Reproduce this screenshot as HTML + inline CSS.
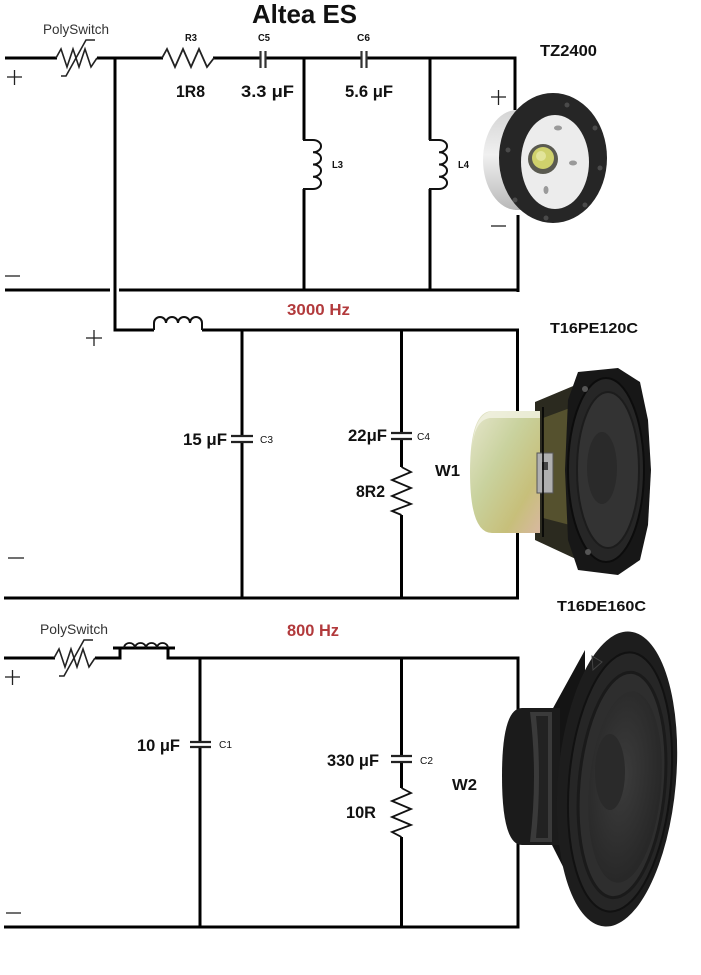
<!DOCTYPE html>
<html><head><meta charset="utf-8"><style>
html,body{margin:0;padding:0;background:#fff;}
svg{display:block;}
text{font-family:"Liberation Sans",sans-serif;}
.b{font-weight:bold;fill:#111;}
</style></head><body>
<svg width="701" height="975" viewBox="0 0 701 975" xmlns="http://www.w3.org/2000/svg">
<defs>
<linearGradient id="silver" x1="0" y1="0" x2="0" y2="1">
<stop offset="0" stop-color="#d4d4d4"/><stop offset="0.45" stop-color="#f0f0f0"/><stop offset="1" stop-color="#b8b8b8"/>
</linearGradient>
<linearGradient id="mag1" x1="0" y1="0" x2="1" y2="1">
<stop offset="0" stop-color="#e6e6cc"/><stop offset="0.4" stop-color="#c9d29e"/><stop offset="0.75" stop-color="#c7bf7a"/><stop offset="1" stop-color="#d8b8a0"/>
</linearGradient>
<radialGradient id="cone2" cx="0.45" cy="0.45" r="0.6">
<stop offset="0" stop-color="#3c3c3c"/><stop offset="1" stop-color="#262626"/>
</radialGradient>
</defs>
<rect width="701" height="975" fill="#fff"/>

<!-- ===== TOP SECTION ===== -->
<g stroke="#000" stroke-width="3" fill="none">
<line x1="5" y1="58" x2="57" y2="58"/>
<line x1="97" y1="58" x2="163" y2="58"/>
<line x1="213" y1="58" x2="260" y2="58"/>
<line x1="265" y1="58" x2="362" y2="58"/>
<line x1="367" y1="58" x2="516" y2="58"/>
<line x1="115" y1="57" x2="115" y2="331"/>
<line x1="113.5" y1="330" x2="154" y2="330"/>
<line x1="304" y1="57" x2="304" y2="140"/>
<line x1="304" y1="189" x2="304" y2="291"/>
<line x1="430" y1="57" x2="430" y2="140"/>
<line x1="430" y1="189" x2="430" y2="291"/>
<line x1="515" y1="56.5" x2="515" y2="110"/>
<line x1="518" y1="215" x2="518" y2="292"/>
<line x1="5" y1="290" x2="110" y2="290"/>
<line x1="119" y1="290" x2="519" y2="290"/>
</g>
<!-- polyswitch top -->
<g stroke="#222" stroke-width="1.6" fill="none">
<path d="M56,58 L61,49 L67,67 L73,49 L79,67 L85,49 L91,67 L97,58"/>
<path d="M61,76 H66 L86,40 H95"/>
</g>
<!-- R3 -->
<path d="M162,58 L167,49 L175,67 L183,49 L191,67 L199,49 L207,67 L214,58" stroke="#222" stroke-width="1.8" fill="none"/>
<!-- C5, C6 -->
<g stroke="#333" stroke-width="2.2">
<line x1="260.5" y1="51" x2="260.5" y2="68"/><line x1="265.5" y1="51" x2="265.5" y2="68"/>
<line x1="361.5" y1="51" x2="361.5" y2="68"/><line x1="366.5" y1="51" x2="366.5" y2="68"/>
</g>
<!-- L3, L4 coils -->
<g stroke="#111" stroke-width="2" fill="none">
<path d="M303,140 H313 A8,6.1 0 0 1 313,152.25 A8,6.1 0 0 1 313,164.5 A8,6.1 0 0 1 313,176.75 A8,6.1 0 0 1 313,189 H303"/>
<path d="M429,140 H439 A8,6.1 0 0 1 439,152.25 A8,6.1 0 0 1 439,164.5 A8,6.1 0 0 1 439,176.75 A8,6.1 0 0 1 439,189 H429"/>
</g>
<!-- plus/minus -->
<g stroke="#222" stroke-width="1.3">
<line x1="7" y1="77" x2="22" y2="77"/><line x1="14.5" y1="70" x2="14.5" y2="85"/>
<line x1="5" y1="276" x2="20" y2="276"/>
<line x1="491" y1="97" x2="506" y2="97"/><line x1="498.5" y1="90" x2="498.5" y2="105"/>
<line x1="491" y1="226" x2="506" y2="226"/>
</g>
<text x="252" y="23" class="b" font-size="26" textLength="105" lengthAdjust="spacingAndGlyphs">Altea ES</text>
<text x="43" y="34" font-size="14" fill="#333" textLength="66" lengthAdjust="spacingAndGlyphs">PolySwitch</text>
<text x="185" y="41" class="b" font-size="10" textLength="12" lengthAdjust="spacingAndGlyphs">R3</text>
<text x="258" y="41" class="b" font-size="10" textLength="12" lengthAdjust="spacingAndGlyphs">C5</text>
<text x="357" y="41" class="b" font-size="10" textLength="13" lengthAdjust="spacingAndGlyphs">C6</text>
<text x="176" y="97" class="b" font-size="16.5" textLength="29" lengthAdjust="spacingAndGlyphs">1R8</text>
<text x="241" y="97" class="b" font-size="16.5" textLength="53" lengthAdjust="spacingAndGlyphs">3.3 μF</text>
<text x="345" y="97" class="b" font-size="16.5" textLength="48" lengthAdjust="spacingAndGlyphs">5.6 μF</text>
<text x="540" y="56" class="b" font-size="15.5" textLength="57" lengthAdjust="spacingAndGlyphs">TZ2400</text>
<text x="332" y="168" class="b" font-size="10" textLength="11" lengthAdjust="spacingAndGlyphs">L3</text>
<text x="458" y="168" class="b" font-size="10" textLength="11" lengthAdjust="spacingAndGlyphs">L4</text>

<!-- tweeter -->
<g>
<ellipse cx="517" cy="160" rx="34" ry="50" fill="url(#silver)"/>
<rect x="515" y="110" width="30" height="100" fill="url(#silver)"/>
<ellipse cx="553" cy="158" rx="54" ry="65" fill="#262626"/>
<ellipse cx="555" cy="162" rx="34" ry="47" fill="#ececec"/>
<circle cx="543" cy="159" r="15" fill="#5a5a50"/>
<circle cx="543" cy="158" r="11" fill="#cfd16c"/>
<circle cx="541" cy="156" r="5" fill="#e2e49a"/>
<g fill="#9a9a9a">
<ellipse cx="558" cy="128" rx="4" ry="2.5"/><ellipse cx="573" cy="163" rx="4" ry="2.5"/><ellipse cx="546" cy="190" rx="2.5" ry="4"/>
</g>
<g fill="#4a4a4a">
<circle cx="567" cy="105" r="2.5"/><circle cx="595" cy="128" r="2.5"/><circle cx="600" cy="168" r="2.5"/><circle cx="585" cy="205" r="2.5"/><circle cx="546" cy="218" r="2.5"/><circle cx="515" cy="200" r="2.5"/><circle cx="508" cy="150" r="2.5"/>
</g>
</g>

<!-- ===== MIDDLE SECTION ===== -->
<g stroke="#000" stroke-width="3" fill="none">
<line x1="202" y1="330" x2="519" y2="330"/>
<line x1="242" y1="329" x2="242" y2="436"/>
<line x1="242" y1="442" x2="242" y2="599"/>
<line x1="401.5" y1="329" x2="401.5" y2="433"/>
<line x1="401.5" y1="439" x2="401.5" y2="467"/>
<line x1="401.5" y1="515" x2="401.5" y2="599"/>
<line x1="517.5" y1="329" x2="517.5" y2="412"/>
<line x1="517.5" y1="532" x2="517.5" y2="599"/>
<line x1="4" y1="598" x2="519" y2="598"/>
</g>
<path d="M154,330 V323 A6,6 0 0 1 166,323 A6,6 0 0 1 178,323 A6,6 0 0 1 190,323 A6,6 0 0 1 202,323 V330" stroke="#111" stroke-width="2" fill="none"/>
<g stroke="#222" stroke-width="2.2">
<line x1="231" y1="436" x2="253" y2="436"/><line x1="231" y1="442" x2="253" y2="442"/>
<line x1="391" y1="433" x2="412" y2="433"/><line x1="391" y1="439" x2="412" y2="439"/>
</g>
<path d="M401.5,467 L411,472 L392,480 L411,488 L392,496 L411,504 L392,511 L401.5,515" stroke="#111" stroke-width="1.8" fill="none"/>
<g stroke="#222" stroke-width="1.3">
<line x1="86" y1="338" x2="102" y2="338"/><line x1="94" y1="330" x2="94" y2="346"/>
<line x1="8" y1="558" x2="24" y2="558"/>
</g>
<text x="287" y="315" font-size="16" font-weight="bold" fill="#b23a3c" textLength="63" lengthAdjust="spacingAndGlyphs">3000 Hz</text>
<text x="550" y="333" class="b" font-size="15" textLength="88" lengthAdjust="spacingAndGlyphs">T16PE120C</text>
<text x="183" y="445" class="b" font-size="16.5" textLength="44" lengthAdjust="spacingAndGlyphs">15 μF</text>
<text x="260" y="443" font-size="10" fill="#111" textLength="13" lengthAdjust="spacingAndGlyphs">C3</text>
<text x="348" y="441" class="b" font-size="16.5" textLength="39" lengthAdjust="spacingAndGlyphs">22μF</text>
<text x="417" y="440" font-size="10" fill="#111" textLength="13" lengthAdjust="spacingAndGlyphs">C4</text>
<text x="435" y="476" class="b" font-size="16" textLength="25" lengthAdjust="spacingAndGlyphs">W1</text>
<text x="356" y="497" class="b" font-size="16.5" textLength="29" lengthAdjust="spacingAndGlyphs">8R2</text>

<!-- W1 speaker -->
<g>
<path d="M535,402 L578,384 L578,560 L535,540 Z" fill="#2b2a1f"/>
<path d="M543,418 L570,408 L570,525 L543,518 Z" fill="#55512e"/>
<path d="M492,411 H540 V533 H492 Q470,533 470,472 Q470,411 492,411 Z" fill="url(#mag1)"/>
<path d="M492,411 H540 V418 H490 Q474,420 472,450 Q474,414 492,411 Z" fill="#f2f2e4" opacity="0.8"/>
<rect x="537" y="453" width="16" height="40" fill="#b0b0b0" stroke="#555" stroke-width="1"/>
<rect x="542" y="462" width="6" height="8" fill="#444"/>
<line x1="543" y1="407" x2="543" y2="537" stroke="#000" stroke-width="1.5"/>
<path d="M578,372 L618,368 L640,382 L648,420 L651,470 L648,525 L640,560 L618,575 L578,570 L568,540 L565,470 L568,400 Z" fill="#171717"/>
<ellipse cx="606" cy="470" rx="38" ry="92" fill="#262626" stroke="#0c0c0c" stroke-width="2"/>
<ellipse cx="608" cy="470" rx="31" ry="78" fill="#333" stroke="#1c1c1c" stroke-width="2"/>
<ellipse cx="602" cy="468" rx="15" ry="36" fill="#2a2a2a"/>
<circle cx="585" cy="389" r="3" fill="#555"/><circle cx="588" cy="552" r="3" fill="#555"/>
</g>

<!-- ===== BOTTOM SECTION ===== -->
<g stroke="#000" stroke-width="3" fill="none">
<line x1="4" y1="658" x2="55" y2="658"/>
<line x1="95" y1="658" x2="121.5" y2="658"/>
<line x1="120" y1="647" x2="120" y2="659.5"/>
<line x1="168" y1="647" x2="168" y2="659.5"/>
<line x1="113" y1="648" x2="175" y2="648"/>
<line x1="166.5" y1="658" x2="519.5" y2="658"/>
<line x1="200" y1="657" x2="200" y2="742"/>
<line x1="200" y1="747" x2="200" y2="928"/>
<line x1="401.5" y1="657" x2="401.5" y2="756"/>
<line x1="401.5" y1="762" x2="401.5" y2="788"/>
<line x1="401.5" y1="837" x2="401.5" y2="928"/>
<line x1="518" y1="657" x2="518" y2="928"/>
<line x1="4" y1="927" x2="519.5" y2="927"/>
</g>
<g stroke="#222" stroke-width="1.6" fill="none">
<path d="M54,658 L59,649 L65,667 L71,649 L77,667 L83,649 L89,667 L95,658"/>
<path d="M59,676 H64 L84,640 H93"/>
</g>
<path d="M124,648 A5.5,5 0 0 1 135,648 A5.5,5 0 0 1 146,648 A5.5,5 0 0 1 157,648 A5.5,5 0 0 1 168,648" stroke="#111" stroke-width="1.8" fill="none"/>
<g stroke="#222" stroke-width="2.2">
<line x1="190" y1="742" x2="211" y2="742"/><line x1="190" y1="747" x2="211" y2="747"/>
<line x1="391" y1="756" x2="412" y2="756"/><line x1="391" y1="762" x2="412" y2="762"/>
</g>
<path d="M401.5,788 L411,793 L392,801 L411,809 L392,817 L411,825 L392,832 L401.5,837" stroke="#111" stroke-width="1.8" fill="none"/>
<g stroke="#222" stroke-width="1.3">
<line x1="5" y1="677" x2="20" y2="677"/><line x1="12.5" y1="670" x2="12.5" y2="685"/>
<line x1="6" y1="913" x2="21" y2="913"/>
</g>
<text x="40" y="634" font-size="14" fill="#333" textLength="68" lengthAdjust="spacingAndGlyphs">PolySwitch</text>
<text x="287" y="636" font-size="16.5" font-weight="bold" fill="#b23a3c" textLength="52" lengthAdjust="spacingAndGlyphs">800 Hz</text>
<text x="557" y="611" class="b" font-size="15" textLength="89" lengthAdjust="spacingAndGlyphs">T16DE160C</text>
<text x="137" y="751" class="b" font-size="16.5" textLength="43" lengthAdjust="spacingAndGlyphs">10 μF</text>
<text x="219" y="748" font-size="10" fill="#111" textLength="13" lengthAdjust="spacingAndGlyphs">C1</text>
<text x="327" y="766" class="b" font-size="16.5" textLength="52" lengthAdjust="spacingAndGlyphs">330 μF</text>
<text x="420" y="764" font-size="10" fill="#111" textLength="13" lengthAdjust="spacingAndGlyphs">C2</text>
<text x="452" y="790" class="b" font-size="16" textLength="25" lengthAdjust="spacingAndGlyphs">W2</text>
<text x="346" y="818" class="b" font-size="16.5" textLength="30" lengthAdjust="spacingAndGlyphs">10R</text>

<!-- W2 speaker -->
<g>
<path d="M552,710 L585,650 L585,910 L552,845 Z" fill="#141414"/>
<path d="M522,708 H560 V845 H522 Q502,845 502,776 Q502,708 522,708 Z" fill="#1b1b1b"/>
<path d="M530,712 H552 V842 H530 Q538,776 530,712 Z" fill="#3a3a3a"/>
<path d="M536,716 H548 V838 H536 Q542,776 536,716 Z" fill="#222"/>
<ellipse cx="617" cy="779" rx="59" ry="148" transform="rotate(5 617 779)" fill="#1d1d1d"/>
<ellipse cx="620" cy="782" rx="51" ry="130" transform="rotate(5 620 782)" fill="#262626" stroke="#111" stroke-width="2"/>
<ellipse cx="622" cy="785" rx="43" ry="113" transform="rotate(5 622 785)" fill="#2e2e2e" stroke="#1a1a1a" stroke-width="3"/>
<ellipse cx="625" cy="787" rx="36" ry="96" transform="rotate(5 625 787)" fill="url(#cone2)"/>
<ellipse cx="610" cy="772" rx="15" ry="38" fill="#2a2a2a"/>
<path d="M592,656 L602,662 L593,670 Z" fill="none" stroke="#444" stroke-width="1"/>
</g>
</svg>
</body></html>
